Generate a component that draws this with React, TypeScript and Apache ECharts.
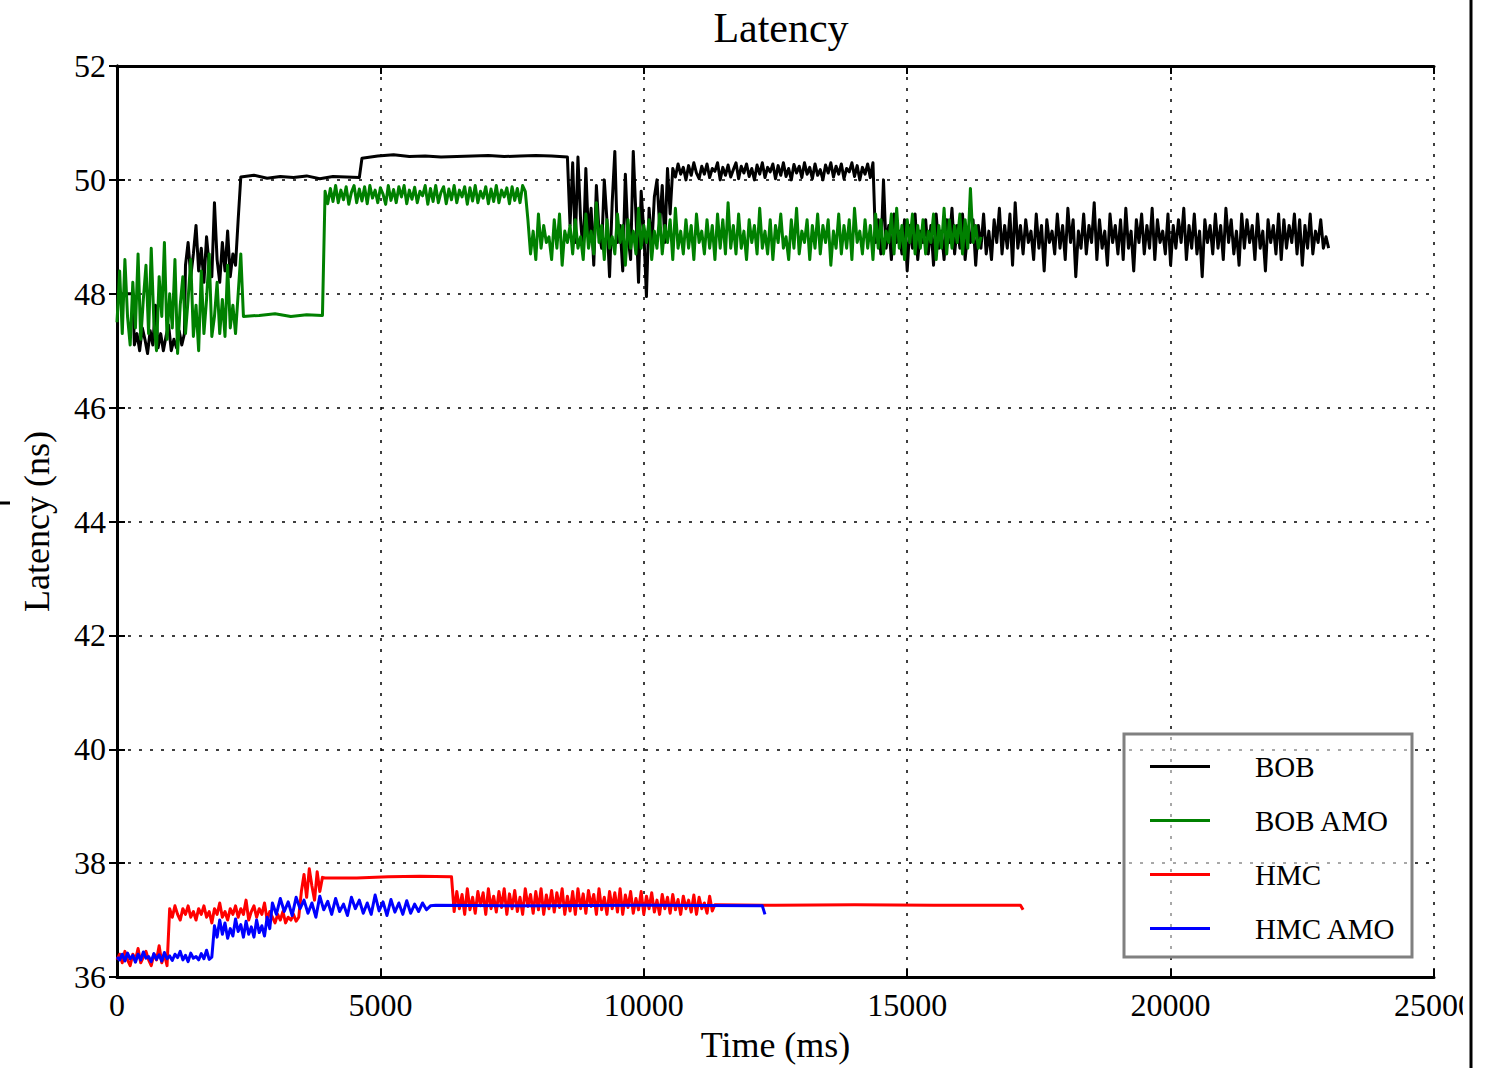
import React, { useEffect, useRef } from "react";
import * as echarts from "echarts";

// ---- axis ticks ----
const xTicks = [0, 5000, 10000, 15000, 20000, 25000];
const yTicks = [36, 38, 40, 42, 44, 46, 48, 50, 52];
const seriesNames = ["BOB", "BOB AMO", "HMC", "HMC AMO"];
const seriesColors = ["#000000", "#008000", "#ff0000", "#0000ff"];

// ---- BOB (black) ----
const bobStart = [[0, 48.0], [300, 48.0]];
const bobLowNoise = [47.1, 47.3, 47.0, 47.4, 47.2, 46.95, 47.35, 47.1, 47.8, 47.05, 47.3, 47.0, 47.25, 47.45, 47.0, 47.2, 47.05, 47.35, 47.1, 47.3];
const bobMidNoise = [48.5, 48.9, 48.3, 48.7, 49.2, 48.4, 48.8, 48.2, 49.0, 48.5, 48.3, 49.6, 48.6, 48.2, 48.9, 48.4, 49.1, 48.3, 48.7, 48.5, 49.3];
const bobFlat50 = [50.05, 50.08, 50.03, 50.06, 50.04, 50.07, 50.02, 50.06, 50.05, 50.04];
const bobFlat504 = [50.38, 50.42, 50.44, 50.41, 50.42, 50.4, 50.41, 50.42, 50.43, 50.41, 50.42, 50.43, 50.42, 50.4];
const bobSpiky = [49.2, 50.3, 48.9, 50.4, 49.3, 48.7, 50.2, 49.0, 49.5, 48.5, 49.9, 49.1, 48.8, 50.0, 49.3, 48.3, 49.6, 50.5, 48.9, 49.2, 48.4, 50.1, 49.0, 48.6, 50.5, 49.4, 48.2, 49.8, 49.1, 47.95, 49.5, 48.8, 49.7, 50.0, 49.2, 49.9, 48.9, 50.2, 49.4];
const bobBand502 = [
  50.2, 50.05, 50.28, 50.1, 50.22, 50.0, 50.25, 50.08, 50.3, 50.12,
  50.02, 50.24, 50.1, 50.28, 50.04, 50.2, 50.15, 50.3, 50.0, 50.22,
  50.08, 50.26, 50.05, 50.18, 50.3, 50.02, 50.24, 50.12, 50.28, 50.06,
  50.2, 50.0, 50.26, 50.1, 50.3, 50.04, 50.22, 50.14, 50.28, 50.02,
  50.25, 50.08, 50.3, 50.06, 50.2, 50.0, 50.27, 50.12, 50.24, 50.04,
  50.3, 50.1, 50.22, 50.02, 50.28, 50.08, 50.18, 50.0, 50.26, 50.12,
  50.3, 50.05, 50.24, 50.1, 50.28, 50.02, 50.2, 50.14, 50.3, 50.06,
  50.25, 50.0, 50.22, 50.1, 50.28, 50.04, 50.3,
];
const bobTail = [
  48.9, 49.3, 48.7, 50.0, 48.8, 49.2, 48.6, 49.4, 48.9, 49.1,
  48.7, 49.3, 48.4, 49.2, 48.8, 49.4, 48.6, 49.1, 48.9, 49.3,
  48.7, 49.2, 48.5, 49.4, 48.8, 49.1, 48.6, 49.3, 48.9, 49.5,
  48.7, 49.2, 48.8, 49.4, 48.6, 49.1, 48.9, 49.3, 48.5, 49.2,
  48.8, 49.4, 48.7, 49.1, 48.6, 49.3, 48.9, 49.5, 48.7, 49.2,
  48.8, 49.4, 48.5, 49.6, 48.8, 49.2, 48.7, 49.3, 48.9, 49.1,
  48.6, 49.4, 48.8, 49.2, 48.4, 49.3, 48.9, 49.1, 48.7, 49.4,
  48.8, 49.2, 48.6, 49.5, 48.9, 49.3, 48.3, 49.1, 48.8, 49.4,
  48.7, 49.2, 48.9, 49.6, 48.6, 49.3, 48.8, 49.1, 48.5, 49.4,
  48.9, 49.2, 48.7, 49.3, 48.6, 49.5, 48.8, 49.1, 48.4, 49.3,
  48.9, 49.4, 48.7, 49.2, 48.8, 49.5, 48.6, 49.3, 48.9, 49.1,
  48.7, 49.4, 48.5, 49.2, 48.8, 49.3, 48.9, 49.5, 48.6, 49.2,
  48.8, 49.4, 48.7, 49.1, 48.3, 49.3, 48.9, 49.2, 48.7, 49.4,
  48.8, 49.2, 48.6, 49.5, 48.9, 49.3, 48.7, 49.1, 48.5, 49.4,
  48.8, 49.3, 48.9, 49.2, 48.6, 49.4, 48.8, 49.1, 48.4, 49.3,
  48.9, 49.2, 48.7, 49.4, 48.6, 49.3, 48.8, 49.2, 48.9, 49.4,
  48.7, 49.3, 48.5, 49.2, 48.8, 49.4, 48.7, 49.1, 48.9, 49.3,
  48.8, 49.0, 48.8,
];

// ---- BOB AMO (green) ----
const amoEarly = [
  47.5, 48.4, 47.3, 48.6, 47.6, 47.1, 48.2, 47.4, 48.7, 47.2, 47.9, 48.5, 47.3, 48.8, 47.5, 47.0, 48.3, 47.6, 48.9, 47.2, 48.0, 47.4, 48.6, 46.95, 47.8, 48.3,
  47.3, 47.9, 48.6, 47.25, 47.8, 47.0, 48.4, 47.3, 47.9, 48.7, 47.25, 47.6, 48.2, 47.3, 47.9, 47.25, 48.5, 47.4, 47.8, 47.3, 48.0, 48.7,
];
const amoFlat476 = [47.6, 47.62, 47.65, 47.6, 47.63, 47.62];
const amoBand497 = [
  49.8, 49.58, 49.85, 49.62, 49.9, 49.6, 49.82, 49.65, 49.88, 49.57,
  49.78, 49.9, 49.6, 49.84, 49.63, 49.88, 49.58, 49.9, 49.68, 49.82,
  49.6, 49.86, 49.75, 49.57, 49.9, 49.64, 49.83, 49.6, 49.88, 49.7,
  49.9, 49.58, 49.82, 49.66, 49.87, 49.6, 49.8, 49.72, 49.9, 49.57,
  49.85, 49.62, 49.9, 49.6, 49.78, 49.88, 49.58, 49.84, 49.65, 49.9,
  49.6, 49.82, 49.7, 49.88, 49.57, 49.86, 49.63, 49.9, 49.6, 49.8,
  49.68, 49.88, 49.58, 49.84, 49.62, 49.9, 49.6, 49.82, 49.7, 49.86,
  49.58, 49.88, 49.64, 49.85, 49.6, 49.9, 49.8,
];
const amoTail = [
  49.3, 48.7, 49.1, 48.6, 49.4, 48.8, 49.2, 48.9, 49.0, 48.6,
  49.3, 48.8, 49.4, 48.5, 49.1, 48.9, 49.2, 48.7, 49.3, 48.8,
  49.0, 48.6, 49.4, 48.8, 49.1, 48.7, 49.6, 48.9, 49.2, 48.6,
  49.3, 48.8, 49.0, 48.7, 49.4, 48.9, 49.2, 48.5, 49.3, 48.8,
  49.1, 48.7, 49.5, 48.8, 49.2, 48.9, 49.3, 48.6, 49.1, 48.8,
  49.4, 48.7, 49.2, 48.9, 49.3, 48.6, 49.5, 48.8, 49.1, 48.7,
  49.3, 48.8, 49.2, 48.6, 49.4, 48.9, 49.1, 48.7, 49.3, 48.8,
  49.2, 48.6, 49.4, 48.8, 49.3, 48.7, 49.6, 48.8, 49.2, 48.7,
  49.4, 48.8, 49.1, 48.6, 49.3, 48.9, 49.2, 48.7, 49.5, 48.8,
  49.1, 48.7, 49.3, 48.6, 49.2, 48.9, 49.4, 48.8, 49.0, 48.6,
  49.3, 48.8, 49.5, 48.7, 49.1, 48.9, 49.3, 48.6, 49.2, 48.8,
  49.4, 48.7, 49.2, 48.9, 49.3, 48.5, 49.1, 48.8, 49.4, 48.7,
  49.2, 48.8, 49.3, 48.6, 49.5, 48.9, 49.1, 48.7, 49.3, 48.8,
  49.2, 48.6, 49.4, 48.8, 49.3, 48.7, 49.1, 48.9, 49.4, 48.7,
  49.5, 48.8, 49.2, 48.6, 49.3, 48.9, 49.4, 48.7, 49.2, 48.8,
  49.3, 48.7, 49.1, 48.9, 49.4, 48.6, 49.2, 48.8, 49.5, 48.7,
  49.3, 48.8, 49.2, 48.9, 49.4, 48.7, 49.3, 48.8, 49.85, 48.9,
  49.2, 48.8, 49.0,
];

// ---- HMC (red) ----
const hmcLow = [36.3, 36.4, 36.25, 36.45, 36.3, 36.2, 36.4, 36.3, 36.5, 36.25, 36.35, 36.45, 36.3, 36.2, 36.4, 36.3, 36.55, 36.25, 36.4, 36.2];
const hmcBand371 = [37.2, 37.05, 37.25, 37.1, 37.0, 37.2, 37.1, 37.25, 37.05, 37.15, 37.0, 37.2, 37.1, 37.25, 37.05, 37.15, 36.95, 37.2, 37.1, 37.3, 37.05, 37.15, 37.0, 37.2, 37.1, 37.25, 37.05, 37.2, 37.1, 37.35, 37.0, 37.15, 37.25, 37.05, 37.2, 37.1, 37.3, 37.0, 37.15, 37.05, 36.95, 37.1, 37.0, 37.15, 36.95, 37.05, 37.0, 37.1, 36.98, 37.05];
const hmcBurst = [37.5, 37.8, 37.4, 37.9, 37.6, 37.35, 37.85, 37.5, 37.75];
const hmcFlat377 = [37.74, 37.74, 37.76, 37.77, 37.76];
const hmcBand373 = [
  37.15, 37.5, 37.2, 37.45, 37.1, 37.55, 37.18, 37.4, 37.12, 37.5,
  37.25, 37.48, 37.1, 37.55, 37.2, 37.42, 37.14, 37.5, 37.22, 37.55,
  37.1, 37.46, 37.2, 37.52, 37.15, 37.4, 37.1, 37.55, 37.24, 37.45,
  37.12, 37.5, 37.18, 37.55, 37.1, 37.44, 37.2, 37.52, 37.14, 37.48,
  37.22, 37.55, 37.1, 37.42, 37.16, 37.5, 37.1, 37.55, 37.2, 37.46,
  37.12, 37.52, 37.24, 37.45, 37.1, 37.55, 37.18, 37.4, 37.1, 37.5,
  37.2, 37.48, 37.14, 37.55, 37.1, 37.44, 37.22, 37.5, 37.12, 37.38,
  37.18, 37.5, 37.1, 37.42, 37.2, 37.48, 37.14, 37.35, 37.1, 37.45,
  37.2, 37.4, 37.12, 37.45, 37.18, 37.36, 37.1, 37.42, 37.2, 37.35,
  37.14, 37.44, 37.1, 37.4, 37.2, 37.3, 37.12, 37.42, 37.16,
];
const hmcEnd = [[11350, 37.27], [12500, 37.26], [14000, 37.27], [15500, 37.26], [17150, 37.26], [17200, 37.18]];

// ---- HMC AMO (blue) ----
const hmcAmoLow = [36.35, 36.3, 36.4, 36.28, 36.42, 36.32, 36.38, 36.26, 36.4, 36.3, 36.44, 36.33, 36.36, 36.27, 36.41, 36.31, 36.39, 36.28, 36.43, 36.32, 36.37, 36.29, 36.4, 36.34, 36.45, 36.3, 36.38, 36.27, 36.42, 36.33, 36.36, 36.3, 36.41, 36.32, 36.47, 36.31, 36.35];
const hmcAmoMid = [36.9, 36.7, 37.0, 36.75, 36.95, 36.68, 36.85, 36.72, 37.02, 36.8, 36.92, 36.7, 36.98, 36.75, 36.88, 36.7, 37.0, 36.78, 36.9, 36.72, 37.05, 36.85];
const hmcAmoHigh = [37.3, 37.1, 37.38, 37.15, 37.32, 37.08, 37.4, 37.2, 37.35, 37.12, 37.3, 37.05, 37.42, 37.18, 37.33, 37.1, 37.38, 37.15, 37.28, 37.08, 37.4, 37.2, 37.35, 37.12, 37.3, 37.1, 37.44, 37.16, 37.32, 37.08, 37.36, 37.14, 37.3, 37.1, 37.34, 37.12, 37.28, 37.15, 37.3, 37.18, 37.25];
const hmcAmoEnd = [[6050, 37.26], [8000, 37.25], [10000, 37.26], [12250, 37.25], [12300, 37.1]];

const seg = (start: number, step: number, values: number[]) =>
  values.map((v, i) => [start + i * step, v]);

const bobData = [
  ...bobStart,
  ...seg(330, 50, bobLowNoise),
  ...seg(1300, 50, bobMidNoise),
  ...seg(2350, 250, bobFlat50),
  ...seg(4650, 300, bobFlat504),
  ...seg(8600, 50, bobSpiky),
  ...seg(10550, 50, bobBand502),
  ...seg(14400, 50, bobTail),
];
const bobAmoData = [
  ...seg(0, 50, amoEarly),
  ...seg(2400, 300, amoFlat476),
  ...seg(3950, 50, amoBand497),
  ...seg(7800, 50, amoTail),
];
const hmcData = [
  ...seg(0, 50, hmcLow),
  ...seg(1000, 50, hmcBand371),
  ...seg(3500, 50, hmcBurst),
  ...seg(3950, 600, hmcFlat377),
  ...seg(6400, 50, hmcBand373),
  ...hmcEnd,
];
const hmcAmoData = [
  ...seg(0, 50, hmcAmoLow),
  ...seg(1850, 50, hmcAmoMid),
  ...seg(2950, 75, hmcAmoHigh),
  ...hmcAmoEnd,
];
const allData = [bobData, bobAmoData, hmcData, hmcAmoData];

const FONT = "'Liberation Serif', 'DejaVu Serif', serif";

export default function App() {
  const ref = useRef<HTMLDivElement>(null);
  useEffect(() => {
    document.body.style.margin = "0";
    const chart = echarts.init(ref.current!, null, { renderer: "svg" });
    const gridLine = { show: true, lineStyle: { color: "#000", type: [3, 8], width: 1.5 } };
    const tick = { show: true, inside: true, length: 8, lineStyle: { color: "#000", width: 2 } };
    const line = { show: true, lineStyle: { color: "#000", width: 3 } };
    const plain = (v: number) => String(v);
    chart.setOption({
      animation: false,
      backgroundColor: "#fff",
      title: {
        text: "Latency",
        left: 776,
        top: 2,
        textAlign: "center",
        textStyle: { fontFamily: FONT, fontSize: 42, fontWeight: "normal", color: "#000" },
      },
      grid: { left: 117, right: 62, top: 66, bottom: 91, containLabel: false },
      xAxis: [
        {
          type: "value",
          min: xTicks[0],
          max: xTicks[xTicks.length - 1],
          interval: 5000,
          position: "bottom",
          axisLine: line,
          axisTick: tick,
          axisLabel: { color: "#000", fontFamily: FONT, fontSize: 32, margin: 12, formatter: plain },
          splitLine: gridLine,
          name: "Time (ms)",
          nameLocation: "middle",
          nameGap: 50,
          nameTextStyle: { color: "#000", fontFamily: FONT, fontSize: 36 },
        },
        {
          type: "value",
          min: xTicks[0],
          max: xTicks[xTicks.length - 1],
          interval: 5000,
          position: "top",
          axisLine: line,
          axisTick: tick,
          axisLabel: { show: false },
          splitLine: { show: false },
        },
      ],
      yAxis: [
        {
          type: "value",
          min: yTicks[0],
          max: yTicks[yTicks.length - 1],
          interval: 2,
          position: "left",
          axisLine: line,
          axisTick: tick,
          axisLabel: { color: "#000", fontFamily: FONT, fontSize: 32, margin: 11, formatter: plain },
          splitLine: gridLine,
          name: "Latency (ns)",
          nameLocation: "middle",
          nameGap: 62,
          nameTextStyle: { color: "#000", fontFamily: FONT, fontSize: 36 },
        },
        {
          type: "value",
          min: yTicks[0],
          max: yTicks[yTicks.length - 1],
          interval: 2,
          position: "right",
          axisLine: line,
          axisTick: tick,
          axisLabel: { show: false },
          splitLine: { show: false },
        },
      ],
      legend: {
        orient: "vertical",
        left: 1124,
        top: 734,
        padding: [18, 16, 14, 26],
        itemGap: 25,
        itemWidth: 60,
        itemHeight: 3,
        icon: "rect",
        backgroundColor: "rgba(255,255,255,0.55)",
        borderColor: "#808080",
        borderWidth: 3,
        borderRadius: 0,
        data: seriesNames,
        textStyle: { color: "#000", fontFamily: FONT, fontSize: 29, padding: [0, 0, 0, 40] },
      },
      series: seriesNames.map((name, i) => ({
        name,
        type: "line",
        data: allData[i],
        showSymbol: false,
        symbol: "none",
        color: seriesColors[i],
        lineStyle: { color: seriesColors[i], width: 3, join: "round" },
        z: 2 + i,
      })),
      graphic: [
        { type: "rect", z: 100, shape: { x: 1463, y: 0, width: 40, height: 1068 }, style: { fill: "#fff" } },
        { type: "line", z: 101, shape: { x1: 1471, y1: 0, x2: 1471, y2: 1068 }, style: { stroke: "#000", lineWidth: 3 } },
        { type: "line", z: 101, shape: { x1: 0, y1: 503, x2: 10, y2: 503 }, style: { stroke: "#000", lineWidth: 3 } },
      ],
    });
    return () => chart.dispose();
  }, []);
  return (
    <div
      ref={ref}
      style={{ position: "fixed", left: 0, top: 0, width: 1496, height: 1068, background: "#fff" }}
    />
  );
}
